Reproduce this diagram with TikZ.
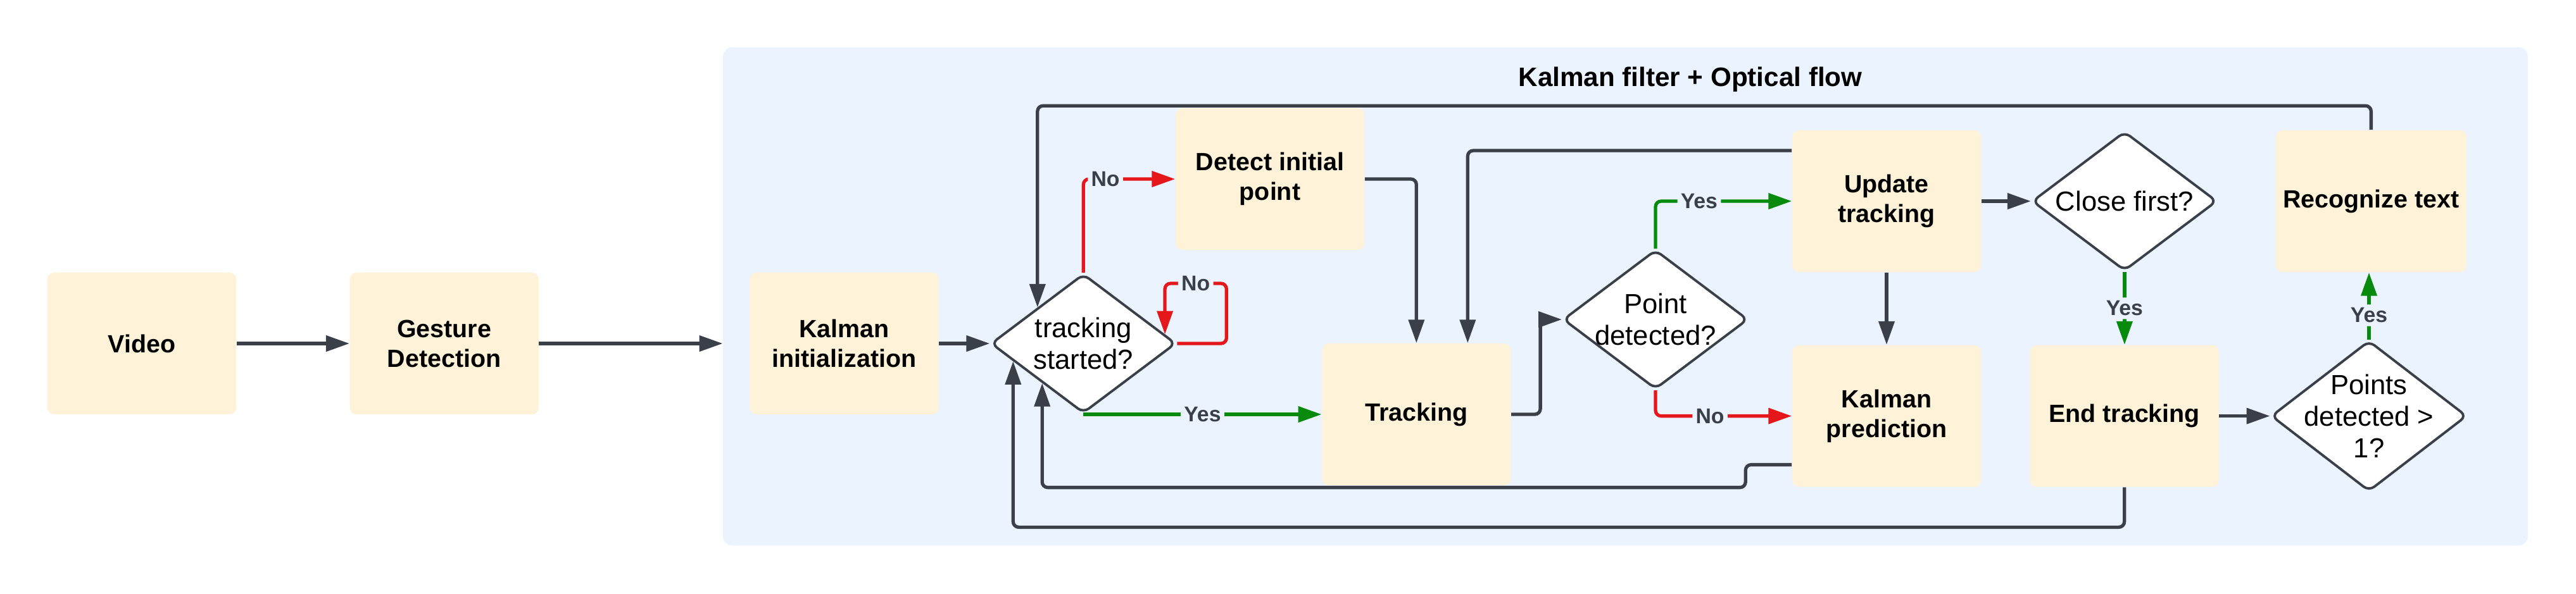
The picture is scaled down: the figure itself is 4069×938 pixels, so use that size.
\documentclass[tikz,border=0pt]{standalone}
\usepackage{fontspec}
\setmainfont{Liberation Sans}
\usetikzlibrary{shapes.geometric, arrows.meta, positioning, calc}
\definecolor{BoxFill}{HTML}{FEF2D9}
\definecolor{PanelFill}{HTML}{EBF3FE}
\definecolor{LineGray}{HTML}{3A3F48}
\definecolor{NoRed}{HTML}{E5171B}
\definecolor{YesGreen}{HTML}{088B0C}

\begin{document}
\begin{tikzpicture}[
    x=0.01cm, y=-0.01cm,
    stepbox/.style={
        rectangle, rounded corners=3pt, minimum width=2.98cm,
        minimum height=2.24cm, fill=BoxFill, text=black, align=center,
        font=\fontsize{11.2}{13.4}\selectfont\bfseries
    },
    decision/.style={
        diamond, rounded corners=3pt, draw=LineGray, line width=1.1pt,
        fill=white, minimum width=2.92cm, minimum height=2.2cm,
        inner sep=-12pt, align=center, text=black,
        font=\fontsize{12.4}{14.2}\selectfont
    },
    panel/.style={rectangle, rounded corners=4pt, fill=PanelFill,
                  minimum width=28.49cm, minimum height=7.87cm, inner sep=0pt},
    grouptitle/.style={font=\fontsize{12}{14}\selectfont\bfseries, text=black},
    arr/.style={-{Triangle[length=10.5pt, width=7pt]}, line width=1.5pt,
                LineGray, rounded corners=2.5pt},
    noarr/.style={arr, NoRed},
    yesarr/.style={arr, YesGreen},
    lbl/.style={fill=PanelFill, inner sep=1.5pt, text=LineGray,
                font=\fontsize{9.6}{10}\selectfont\bfseries}
]
\fill[white] (0,0) rectangle (4069,938);
\useasboundingbox (0,0) rectangle (4069,938);

% ===================================================================
% GROUP PANEL
% ===================================================================
\node[panel] (panel) at (2567.5,468.5) {};
\node[grouptitle, anchor=base] (title) at (2670,136)
    {Kalman filter + Optical flow};

% ===================================================================
% STEPS
% ===================================================================
\node[stepbox] (video) at (224,543) {Video};
\node[stepbox, right=1.78cm of video] (gesture) {Gesture\\Detection};
\node[stepbox, right=3.32cm of gesture] (kinit) {Kalman\\initialization};
\node[decision, right=0.80cm of kinit] (started) {tracking\\started?};
\node[stepbox] (detect) at (2006,283) {Detect initial\\point};
\node[stepbox, right=3.76cm of started.south] (tracking) {Tracking};
\node[decision] (pdet) at (2615,505) {Point\\detected?};
\node[stepbox] (update) at (2980,318) {Update\\tracking};
\node[stepbox, below=1.14cm of update] (kpred) {Kalman\\prediction};
\node[decision, right=0.78cm of update] (close) {Close first?};
\node[stepbox, right=0.76cm of kpred] (endtr) {End tracking};
\node[decision, minimum width=3.09cm, minimum height=2.38cm,
      right=0.80cm of endtr] (pts) {Points\\detected >\\1?};
\node[stepbox, right=0.90cm of close] (recog) {Recognize text};

% ===================================================================
% ARROWS
% ===================================================================
\draw[arr] (video) -- (gesture);
\draw[arr] (gesture) -- (gesture.east -| panel.west);
\draw[arr] (kinit) -- (started);

\draw[noarr] (started.north) |- node[lbl, pos=0.62] {No} (detect.west);
\coordinate (loopin) at ($(started.north)!0.87!(started.east)$);
\draw[noarr] (started.east) -- ++(78,0) -- ++(0,-95)
    -- node[lbl] {No} (loopin |- 0,448) -- (loopin);
\draw[yesarr] (started.south) -- node[lbl] {Yes} (tracking.west);

\draw[arr] (detect.east) -| (tracking.north);
\draw[arr] ($(update.west)+(0,-80)$) -| ($(tracking.north)+(81,0)$);
\draw[arr] (tracking.east) -- ++(46,0) |- (pdet.west);

\draw[yesarr] (pdet.north) |- node[lbl, pos=0.66] {Yes} (update.west);
\draw[noarr] (pdet.south) |- node[lbl, pos=0.70] {No} (kpred.west);
\draw[arr] (update) -- (kpred);
\draw[arr] (update) -- (close);
\draw[yesarr] (close.south) -- node[lbl] {Yes} (close.south |- endtr.north);
\draw[arr] (endtr) -- (pts);
\draw[yesarr] (pts.north) -- node[lbl, pos=0.36] {Yes} (pts.north |- recog.south);

% ===================================================================
% FEEDBACK LOOPS
% ===================================================================
\draw[arr] (recog.north) -- ++(0,-38)
    -| ($(started.north)!0.49!(started.west)$);
\draw[arr] ($(kpred.west)+(0,77)$) -- ++(-73,0) -- ++(0,36)
    -| ($(started.south)!0.44!(started.west)$);
\draw[arr] (endtr.south) -- ++(0,63)
    -| ($(started.south)!0.75!(started.west)$);

\end{tikzpicture}
\end{document}
